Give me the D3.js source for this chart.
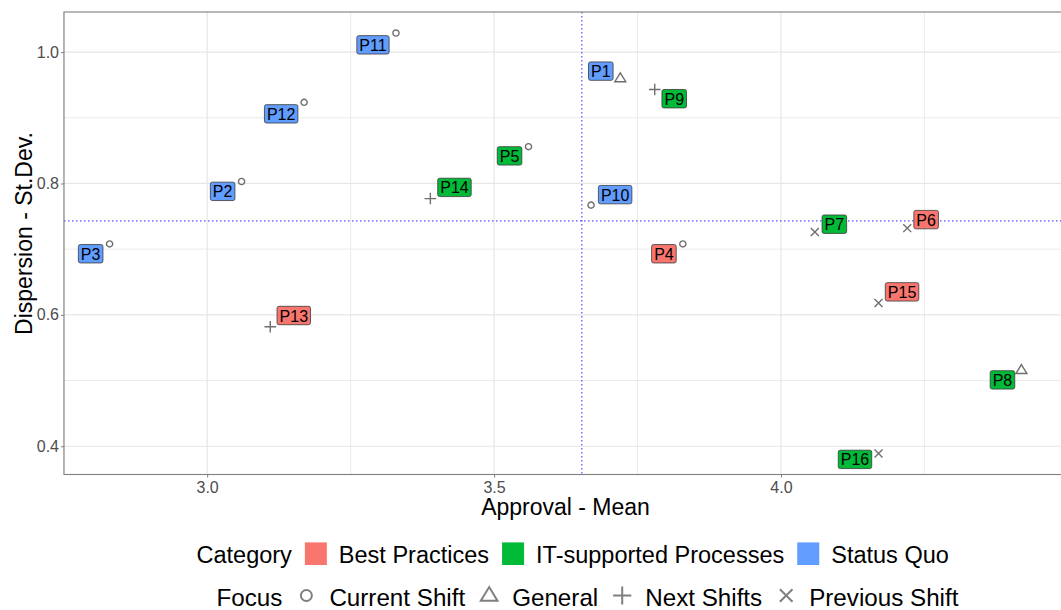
<!DOCTYPE html>
<html>
<head>
<meta charset="utf-8">
<script src="https://cdn.jsdelivr.net/npm/d3@7"></script>
<style>
  html, body { margin: 0; padding: 0; background: #fff; }
  svg { display: block; font-family: "Liberation Sans", Arial, sans-serif; }
</style>
</head>
<body>
<svg id="chart" width="1061" height="610"></svg>
<script>
// ---------------- data ----------------
const labels     = ["P1","P2","P3","P4","P5","P6","P7","P8","P9","P10","P11","P12","P13","P14","P15","P16"];
const approval   = [3.720, 3.060, 2.830, 3.829, 3.560, 4.220, 4.059, 4.419, 3.780, 3.669, 3.329, 3.169, 3.110, 3.389, 4.170, 4.170];
const dispersion = [0.960, 0.803, 0.708, 0.708, 0.856, 0.732, 0.726, 0.516, 0.943, 0.767, 1.029, 0.9235, 0.582, 0.777, 0.618, 0.389];
const category   = ["Status Quo","Status Quo","Status Quo","Best Practices","IT-supported Processes","Best Practices","IT-supported Processes","IT-supported Processes","IT-supported Processes","Status Quo","Status Quo","Status Quo","Best Practices","IT-supported Processes","Best Practices","IT-supported Processes"];
const focus      = ["General","Current Shift","Current Shift","Current Shift","Current Shift","Previous Shift","Previous Shift","General","Next Shifts","Current Shift","Current Shift","Current Shift","Next Shifts","Next Shifts","Previous Shift","Previous Shift"];
// repelled label positions (data units)
const labelX     = [3.686, 3.027, 2.797, 3.796, 3.527, 4.253, 4.093, 4.386, 3.814, 3.711, 3.289, 3.129, 3.151, 3.431, 4.211, 4.129];
const labelY     = [0.971, 0.788, 0.693, 0.693, 0.842, 0.745, 0.738, 0.501, 0.929, 0.783, 1.011, 0.906, 0.599, 0.794, 0.635, 0.380];
// reference lines
const meanApproval = 3.653;
const meanDispersion = 0.743;
// categories, shapes, ticks
const categories = ["Best Practices","IT-supported Processes","Status Quo"];
const catColors  = ["#F8766D","#00BA38","#619CFF"];
const focuses    = ["Current Shift","General","Next Shifts","Previous Shift"];
const xTicks = [3.0, 3.5, 4.0];
const xMinor = [2.75, 3.25, 3.75, 4.25];
const yTicks = [0.4, 0.6, 0.8, 1.0];
const yMinor = [0.5, 0.7, 0.9];

// ---------------- layout ----------------
const svg = d3.select("#chart");
const P = { left: 64, top: 12, right: 1067, bottom: 474.5 };

const xExt = d3.extent(approval), yExt = d3.extent(dispersion);
const xPad = (xExt[1]-xExt[0])*0.05, yPad = (yExt[1]-yExt[0])*0.05;
const x = d3.scaleLinear().domain([xExt[0]-xPad, xExt[1]+xPad]).range([P.left, P.right]);
const y = d3.scaleLinear().domain([yExt[0]-yPad, yExt[1]+yPad]).range([P.bottom, P.top]);
const color = d3.scaleOrdinal().domain(categories).range(catColors);

const g = svg.append("g");
// gridlines
g.selectAll(".xminor").data(xMinor).enter().append("line")
  .attr("x1", d=>x(d)).attr("x2", d=>x(d)).attr("y1", P.top).attr("y2", P.bottom)
  .attr("stroke", "#ebebeb").attr("stroke-width", 1);
g.selectAll(".yminor").data(yMinor).enter().append("line")
  .attr("y1", d=>y(d)).attr("y2", d=>y(d)).attr("x1", P.left).attr("x2", P.right)
  .attr("stroke", "#ebebeb").attr("stroke-width", 1);
g.selectAll(".xmaj").data(xTicks).enter().append("line")
  .attr("x1", d=>x(d)).attr("x2", d=>x(d)).attr("y1", P.top).attr("y2", P.bottom)
  .attr("stroke", "#e6e6e6").attr("stroke-width", 1.2);
g.selectAll(".ymaj").data(yTicks).enter().append("line")
  .attr("y1", d=>y(d)).attr("y2", d=>y(d)).attr("x1", P.left).attr("x2", P.right)
  .attr("stroke", "#e6e6e6").attr("stroke-width", 1.2);

// mean lines
g.append("line").attr("x1", x(meanApproval)).attr("x2", x(meanApproval))
  .attr("y1", P.top).attr("y2", P.bottom)
  .attr("stroke", "#3333ff").attr("stroke-width", 1.2).attr("stroke-dasharray", "1.5,2.5").attr("opacity", 0.85);
g.append("line").attr("y1", y(meanDispersion)).attr("y2", y(meanDispersion))
  .attr("x1", P.left).attr("x2", P.right)
  .attr("stroke", "#3333ff").attr("stroke-width", 1.2).attr("stroke-dasharray", "1.5,2.5").attr("opacity", 0.85);

// axes
const xAxis = d3.axisBottom(x).tickValues(xTicks).tickFormat(d3.format(".1f")).tickSize(3).tickPadding(4);
const yAxis = d3.axisLeft(y).tickValues(yTicks).tickFormat(d3.format(".1f")).tickSize(3).tickPadding(2);
const gx = svg.append("g").attr("transform", `translate(0,${P.bottom})`).call(xAxis);
const gy = svg.append("g").attr("transform", `translate(${P.left},0)`).call(yAxis);
[gx, gy].forEach(a => {
  a.select(".domain").remove();
  a.selectAll(".tick line").attr("stroke", "#7f7f7f");
  a.selectAll(".tick text").attr("fill", "#4d4d4d").attr("font-size", 16)
    .attr("font-family", '"Liberation Sans", Arial, sans-serif');
});

// panel border
svg.append("rect").attr("x", P.left).attr("y", P.top)
  .attr("width", P.right-P.left).attr("height", P.bottom-P.top)
  .attr("fill", "none").attr("stroke", "#7f7f7f").attr("stroke-width", 1.1);

// shapes
function shapePath(kind, s) {
  if (kind === "Current Shift") {
    return d3.arc()({innerRadius:0, outerRadius:s*0.55, startAngle:0, endAngle:2*Math.PI});
  }
  if (kind === "General") {
    const h = s*0.85;
    return `M0,${-h*0.62}L${s*0.52},${h*0.38}L${-s*0.52},${h*0.38}Z`;
  }
  if (kind === "Next Shifts") {
    return `M${-s*0.55},0L${s*0.55},0M0,${-s*0.55}L0,${s*0.55}`;
  }
  return `M${-s*0.42},${-s*0.42}L${s*0.42},${s*0.42}M${-s*0.42},${s*0.42}L${s*0.42},${-s*0.42}`;
}
const idx = d3.range(labels.length);
const ptSize = {"Current Shift": 5.6, "General": 10.5, "Next Shifts": 10.5, "Previous Shift": 9.5};

svg.append("g").selectAll("path").data(idx).enter().append("path")
  .attr("transform", i => `translate(${x(approval[i])},${y(dispersion[i])})`)
  .attr("d", i => shapePath(focus[i], ptSize[focus[i]]))
  .attr("fill", "none").attr("stroke", "#6e6e6e").attr("stroke-width", 1.4);

// labels
const lg = svg.append("g").selectAll("g").data(idx).enter().append("g")
  .attr("transform", i => `translate(${x(labelX[i])},${y(labelY[i])})`);
lg.each(function(i) {
  const gg = d3.select(this);
  const rect = gg.append("rect");
  const t = gg.append("text").text(labels[i]).attr("text-anchor", "middle")
    .attr("font-size", 16).attr("y", 6).attr("fill", "#000");
  const w = t.node().getComputedTextLength() + 5;
  rect.attr("x", -w/2).attr("y", -9.2).attr("width", w).attr("height", 18.4)
    .attr("rx", 2).attr("ry", 2)
    .attr("fill", color(category[i])).attr("stroke", "#3a3a3a").attr("stroke-width", 0.8);
});

// axis titles
svg.append("text").attr("x", (P.left+P.right)/2).attr("y", 515)
  .attr("text-anchor", "middle").attr("font-size", 23).attr("fill", "#000").text("Approval - Mean");
svg.append("text").attr("transform", "translate(31.5,233.5) rotate(-90)")
  .attr("text-anchor", "middle").attr("font-size", 23).attr("fill", "#000").text("Dispersion - St.Dev.");

// legends
function legendRow(title, items, startX, cy, baseY, fs, drawKey) {
  const row = svg.append("g");
  const tt = row.append("text").attr("x", startX).attr("y", baseY).attr("font-size", fs).text(title);
  let cx = startX + tt.node().getComputedTextLength() + 13;
  items.forEach((it, k) => {
    drawKey(row, it, cx, cy);
    const tx = row.append("text").attr("x", cx + 22 + 12).attr("y", baseY).attr("font-size", fs).text(it);
    cx = cx + 22 + 12 + tx.node().getComputedTextLength() + 13;
  });
}
legendRow("Category", categories, 196.5, 553.7, 563, 23.5, (row, it, cx, cy) => {
  row.append("rect").attr("x", cx).attr("y", cy-11.3).attr("width", 22).attr("height", 22.6)
    .attr("fill", color(it));
});
const legSize = {"Current Shift": 10, "General": 16, "Next Shifts": 16.5, "Previous Shift": 15};
legendRow("Focus", focuses, 216.5, 595.5, 606, 24.2, (row, it, cx, cy) => {
  row.append("path").attr("transform", `translate(${cx+11},${cy})`)
    .attr("d", shapePath(it, legSize[it]))
    .attr("fill", "none").attr("stroke", "#7f7f7f").attr("stroke-width", 2);
});
</script>
</body>
</html>
